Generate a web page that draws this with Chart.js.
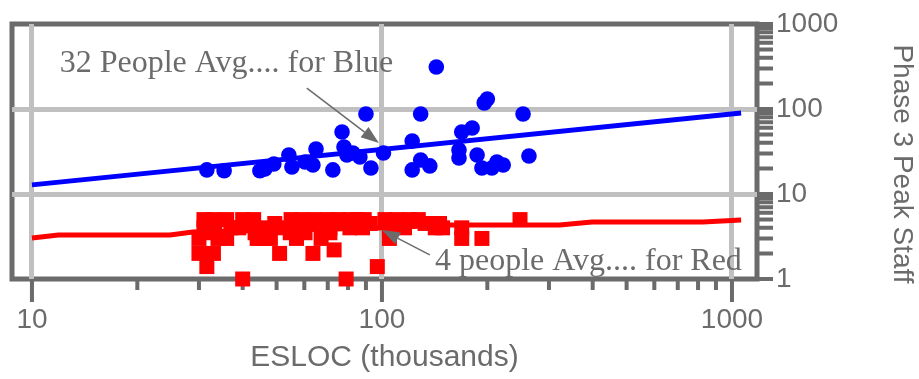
<!DOCTYPE html>
<html>
<head>
<meta charset="utf-8">
<script src="https://cdn.jsdelivr.net/npm/chart.js@4.4.0/dist/chart.umd.min.js"></script>
<style>
  html, body { margin: 0; padding: 0; background: #fff; }
  #wrap { width: 919px; height: 379px; }
</style>
</head>
<body>
<div id="wrap"><canvas id="staffChart"></canvas></div>
<script>
// Phase 3 peak staff against size (ESLOC, thousands), two project groups
const blueEsloc = [31.6, 35.4, 44.8, 46.3, 49.1, 54.2, 55.3, 60.3, 63.5, 64.8, 72.4, 76.9, 77.9, 79.4, 82.6, 86.5, 90, 93, 101,
  122, 122, 129, 129, 137, 143, 166, 166, 169, 181, 187, 193, 200, 196, 206, 213, 222, 253, 263];
const blueStaff = [19.2, 18.8, 18.8, 19.7, 22.5, 28.8, 20.8, 23.8, 21.9, 33.8, 19.2, 53.6, 35.7, 28.8, 30.4, 27.2, 87.3, 20.2, 30.4,
  42.0, 19.2, 87.3, 25.1, 21.4, 312, 32.9, 26.5, 53.6, 59.8, 28.8, 20.2, 131, 118, 20.2, 23.8, 21.9, 87.3, 28.0];

const redEsloc = [31, 33, 36, 40, 43, 55, 59, 64, 70, 75, 81, 85, 89, 102, 110, 120, 127, 248,
  33.3, 42, 49.4, 57.6, 66.5, 78.5, 92.6, 111, 132.8, 146,
  31, 37, 39, 46, 50.5, 58, 71, 81, 88, 105, 116, 142, 149, 169,
  32.3, 43.4, 54.7, 60.3, 71,
  30, 34, 36, 44, 46, 48, 57, 67, 105, 169, 193,
  30, 33, 51, 63.5, 73,
  31.6, 97,
  40, 79];
const redStaff = [5, 5, 5, 5, 5, 5, 5, 5, 5, 5, 5, 5, 5, 5, 5, 5, 5, 5,
  4.5, 4.5, 4.5, 4.5, 4.5, 4.5, 4.5, 4.5, 4.5, 4.5,
  4, 4, 4, 4, 4, 4, 4, 4, 4, 4, 4, 4, 4, 4,
  3.5, 3.5, 3.5, 3.5, 3.5,
  3, 3, 3, 3, 3, 3, 3, 3, 3, 3, 3,
  2, 2, 2, 2, 2.2,
  1.4, 1.4,
  1, 1];

// average staffing curves
const blueAvgEsloc = [10, 1062];
const blueAvgStaff = [12.8, 90];
const redAvgEsloc = [10, 11.9, 24.8, 28.8, 99, 153, 322, 398, 826, 1062];
const redAvgStaff = [3.04, 3.29, 3.29, 3.57, 3.98, 4.32, 4.32, 4.68, 4.68, 4.94];

const xTickLabels = [10, 100, 1000];
const yTickLabels = [1, 10, 100, 1000];

// callouts: text anchor and arrow tail/tip, in data units
const notes = [
  { text: '32 People Avg.... for Blue', at: [12.0, 272], from: [61, 176], to: [98, 39.8] },
  { text: '4 people Avg.... for Red', at: [141.7, 1.276], from: [137, 1.92], to: [100, 3.77] }
];

const AXIS_GREY = '#6b6b6b';
const GRID_GREY = '#c0c0c0';
const SANS = '"Liberation Sans", Arial, sans-serif';

const toPoints = (xs, ys) => xs.map((x, i) => ({ x, y: ys[i] }));
const isDecade = v => Math.abs(Math.log10(v) - Math.round(Math.log10(v))) < 1e-9;

function logSteps(lo, hi) {
  const out = [];
  for (let d = lo; d < hi; d *= 10) {
    for (let k = 1; k < 10; k++) out.push(d * k);
  }
  out.push(hi);
  return out;
}

const framePlugin = {
  id: 'frame',
  beforeDraw(chart) {
    const { ctx, chartArea: a, scales: { x, y } } = chart;
    ctx.save();
    ctx.strokeStyle = AXIS_GREY;
    ctx.lineWidth = 5;
    ctx.strokeRect(a.left, a.top, a.right - a.left, a.bottom - a.top);
    ctx.lineWidth = 4;
    ctx.beginPath();
    for (const v of logSteps(10, 1000)) {
      const px = x.getPixelForValue(v);
      ctx.moveTo(px, a.bottom);
      ctx.lineTo(px, a.bottom + (isDecade(v) ? 23 : 11));
    }
    for (const v of logSteps(1, 1000)) {
      const py = y.getPixelForValue(v);
      ctx.moveTo(a.right, py);
      ctx.lineTo(a.right + 16, py);
    }
    ctx.stroke();
    ctx.restore();
  },
  afterDatasetsDraw(chart) {
    const { ctx, scales: { x, y } } = chart;
    const px = p => [x.getPixelForValue(p[0]), y.getPixelForValue(p[1])];
    ctx.save();
    ctx.fillStyle = AXIS_GREY;
    ctx.strokeStyle = AXIS_GREY;
    ctx.font = '32px "Liberation Serif", "Times New Roman", serif';
    ctx.textBaseline = 'alphabetic';
    ctx.textAlign = 'left';
    for (const n of notes) {
      const [tx, ty] = px(n.at);
      ctx.fillText(n.text, tx, ty);
      const [x0, y0] = px(n.from);
      const [x1, y1] = px(n.to);
      const ang = Math.atan2(y1 - y0, x1 - x0);
      const head = 18, half = 6.5;
      const bx = x1 - head * Math.cos(ang), by = y1 - head * Math.sin(ang);
      ctx.lineWidth = 1.5;
      ctx.beginPath();
      ctx.moveTo(x0, y0);
      ctx.lineTo(bx, by);
      ctx.stroke();
      ctx.beginPath();
      ctx.moveTo(x1, y1);
      ctx.lineTo(bx + half * Math.sin(ang), by - half * Math.cos(ang));
      ctx.lineTo(bx - half * Math.sin(ang), by + half * Math.cos(ang));
      ctx.closePath();
      ctx.fill();
    }
    ctx.restore();
  },
  afterDraw(chart) {
    const { ctx } = chart;
    ctx.save();
    ctx.fillStyle = AXIS_GREY;
    ctx.font = '28px ' + SANS;
    ctx.textAlign = 'center';
    ctx.textBaseline = 'middle';
    ctx.translate(902, 164);
    ctx.rotate(Math.PI / 2);
    ctx.fillText('Phase 3 Peak Staff', 0, 0);
    ctx.restore();
  }
};

const majorGrid = labels => c => (c.tick && labels.includes(c.tick.value) ? GRID_GREY : 'rgba(0,0,0,0)');

new Chart(document.getElementById('staffChart'), {
  type: 'scatter',
  data: {
    datasets: [
      {
        data: toPoints(blueAvgEsloc, blueAvgStaff),
        showLine: true, borderColor: '#0000ff', borderWidth: 5, pointRadius: 0
      },
      {
        data: toPoints(redAvgEsloc, redAvgStaff),
        showLine: true, borderColor: '#ff0000', borderWidth: 5, pointRadius: 0
      },
      {
        data: toPoints(blueEsloc, blueStaff),
        pointStyle: 'circle', pointRadius: 7.8, backgroundColor: '#0000ff', borderWidth: 0, clip: false
      },
      {
        data: toPoints(redEsloc, redStaff),
        pointStyle: 'rect', pointRadius: 10.6, backgroundColor: '#ff0000', borderWidth: 0, clip: false
      }
    ]
  },
  options: {
    responsive: true,
    maintainAspectRatio: false,
    animation: false,
    layout: { padding: { left: 12, top: 24, right: 0, bottom: 0 } },
    scales: {
      x: {
        type: 'logarithmic',
        min: 8.77,
        max: 1179,
        border: { display: false },
        grid: { color: majorGrid(xTickLabels), lineWidth: 5, drawTicks: false },
        ticks: {
          autoSkip: false, maxRotation: 0, padding: 24,
          color: AXIS_GREY, font: { size: 28, family: SANS },
          callback: v => (xTickLabels.includes(v) ? String(v) : '')
        },
        title: {
          display: true, text: 'ESLOC (thousands)', color: AXIS_GREY,
          font: { size: 30, family: SANS }, padding: { top: 0, bottom: 3 }
        },
        afterFit: s => { s.height = 100; s.paddingLeft = 0; s.paddingRight = 0; }
      },
      y: {
        type: 'logarithmic',
        position: 'right',
        min: 1,
        max: 1000,
        border: { display: false },
        grid: { color: majorGrid([10, 100]), lineWidth: 5, drawTicks: false },
        ticks: {
          autoSkip: false, padding: 19,
          color: AXIS_GREY, font: { size: 28, family: SANS },
          callback: v => (yTickLabels.includes(v) ? String(v) : '')
        },
        afterFit: s => { s.width = 162; s.paddingTop = 0; s.paddingBottom = 0; }
      }
    },
    plugins: { legend: { display: false }, tooltip: { enabled: false } }
  },
  plugins: [framePlugin]
});
</script>
</body>
</html>
